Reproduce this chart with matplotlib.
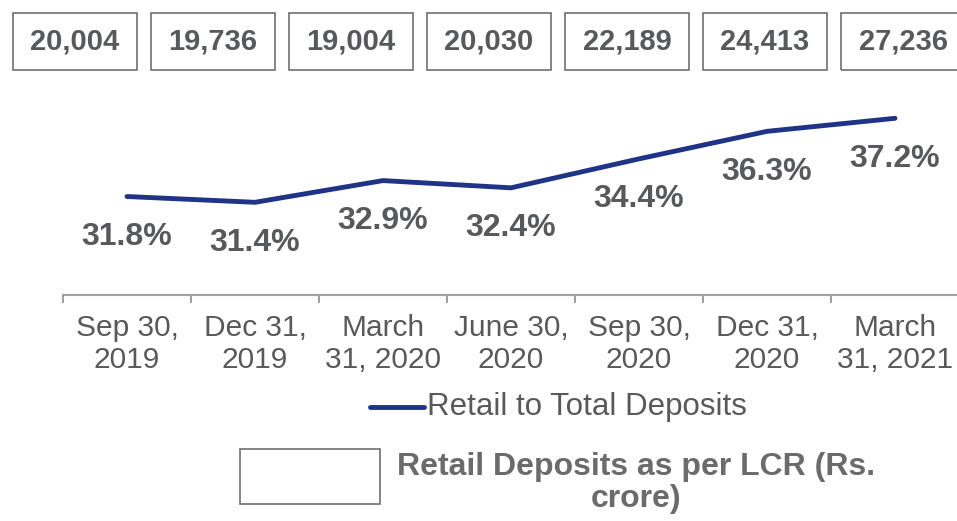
import matplotlib
matplotlib.use("Agg")
import matplotlib.pyplot as plt
from matplotlib.patches import Rectangle
from matplotlib.lines import Line2D
import numpy as np

plt.rcParams['font.family'] = ['Liberation Sans', 'DejaVu Sans']

# Data
periods = ["Sep 30,\n2019", "Dec 31,\n2019", "March\n31, 2020", "June 30,\n2020",
           "Sep 30,\n2020", "Dec 31,\n2020", "March\n31, 2021"]
retail_share = [31.8, 31.4, 32.9, 32.4, 34.4, 36.3, 37.2]
lcr_deposits = ["20,004", "19,736", "19,004", "20,030", "22,189", "24,413", "27,236"]

W, H = 957, 521
fig = plt.figure(figsize=(W / 100, H / 100), dpi=100)

navy = "#1f3487"
grey = "#58595b"
axis_grey = "#a0a0a0"

# Main axes (x axis at y=295px)
ax = fig.add_axes([63 / W, (H - 295) / H, (959 - 63) / W, (295 - 85) / H])
x = np.arange(len(periods))
ax.plot(x, retail_share, color=navy, lw=3.5, solid_capstyle='round')
ax.set_xlim(-0.5, len(periods) - 0.5)
ax.set_ylim(25, 39.5)

for xi, v in zip(x, retail_share):
    ax.annotate(f"{v:.1f}%", (xi, v), xytext=(0, -29), textcoords='offset points',
                ha='center', va='center', fontsize=23, fontweight='bold', color=grey)

for s in ['top', 'right', 'left']:
    ax.spines[s].set_visible(False)
ax.spines['bottom'].set_color(axis_grey)
ax.spines['bottom'].set_linewidth(1.5)
ax.set_yticks([])
ax.set_xticks(np.arange(-0.5, len(periods)), labels=[''] * (len(periods) + 1))
ax.tick_params(axis='x', which='major', length=6, width=1.5, color=axis_grey)
ax.set_xticks(x, labels=periods, minor=True)
ax.tick_params(axis='x', which='minor', length=0, pad=14, labelsize=21.5, labelcolor=grey)
for lab in ax.get_xticklabels(minor=True):
    lab.set_linespacing(1.15)

# Boxes with LCR retail deposits along the top
box_w, box_h = 124, 57
for i, txt in enumerate(lcr_deposits):
    cx = 75 + 138 * i
    fig.add_artist(Rectangle(((cx - box_w / 2) / W, (H - 70) / H), box_w / W, box_h / H,
                             transform=fig.transFigure, fill=False, ec="#707070", lw=1.2))
    fig.text(cx / W, (H - 41) / H, txt, ha='center', va='center', fontsize=21,
             fontweight='bold', color=grey)

# Legend
fig.add_artist(Line2D([370 / W, 424 / W], [(H - 407) / H] * 2, transform=fig.transFigure,
                      color=navy, lw=3.5, solid_capstyle='round'))
fig.text(427 / W, (H - 407) / H, "Retail to Total Deposits", ha='left', va='center',
         fontsize=22.5, color=grey)
fig.add_artist(Rectangle((240 / W, (H - 504) / H), 140 / W, 55 / H,
                         transform=fig.transFigure, fill=False, ec="#707070", lw=1.2))
fig.text(636 / W, (H - 483) / H, "Retail Deposits as per LCR (Rs.\ncrore)", ha='center',
         va='center', fontsize=23, fontweight='bold', color="#6b6b6b", linespacing=1.12)

fig.savefig("out.png", dpi=100)
